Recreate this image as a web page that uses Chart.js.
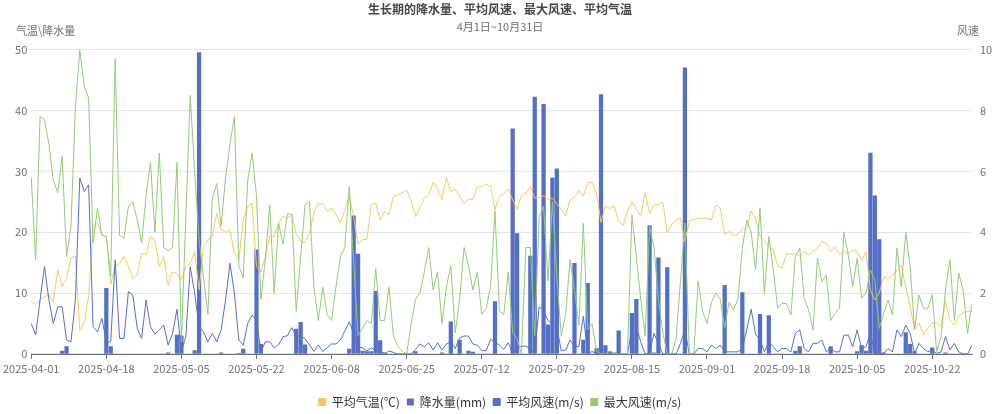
<!DOCTYPE html>
<html>
<head>
<meta charset="utf-8">
<script src="https://cdn.jsdelivr.net/npm/chart.js@4.4.1/dist/chart.umd.min.js"></script>
<style>
  html, body { margin: 0; padding: 0; background: #fff; }
  #wrap { width: 1000px; height: 414px; }
</style>
</head>
<body>
<div id="wrap"><canvas id="chart"></canvas></div>
<script>
// 2025-04-01 ~ 2025-10-31, one category per day
const dates = [];
for (let d = new Date(Date.UTC(2025, 3, 1)); d <= new Date(Date.UTC(2025, 9, 31)); d.setUTCDate(d.getUTCDate() + 1)) {
  dates.push(d.toISOString().slice(0, 10));
}

// 平均气温(℃)
const avgTemp = [
  8.6, 8.1, 8.9, 9.4, 9.7, 8.6, 13.8, 11.1, 12.5, 15.8,
  16.1, 3.9, 5.2, 9.4, 21.0, 21.5, 19.6, 19.3, 11.5, 14.4,
  14.8, 16.0, 14.4, 12.3, 13.0, 16.5, 16.3, 19.3, 18.7, 14.4,
  16.0, 11.3, 13.5, 13.2, 12.2, 14.4, 14.9, 16.8, 10.5, 17.6,
  18.7, 19.3, 23.1, 20.4, 20.1, 20.4, 16.5, 15.4, 22.0, 24.2,
  24.8, 14.4, 13.5, 16.0, 19.3, 19.3, 21.5, 22.6, 22.3, 22.9,
  19.6, 18.5, 18.3, 19.9, 23.2, 24.7, 24.7, 23.4, 24.0, 22.9,
  21.5, 23.7, 25.9, 22.6, 18.0, 18.8, 18.8, 24.5, 24.8, 22.0,
  23.4, 22.9, 25.9, 26.1, 26.5, 26.9, 25.3, 22.6, 24.0, 25.6,
  26.1, 28.2, 27.1, 25.4, 29.0, 26.7, 27.1, 25.9, 24.7, 25.4,
  25.4, 27.5, 27.4, 27.9, 27.5, 23.7, 25.9, 26.3, 27.1, 25.3,
  23.8, 26.0, 26.4, 27.5, 25.6, 25.7, 26.0, 25.4, 25.6, 24.7,
  23.7, 22.7, 25.3, 25.8, 26.8, 25.9, 28.1, 28.2, 26.4, 21.6,
  24.3, 23.9, 24.3, 21.9, 21.1, 23.4, 25.0, 23.9, 22.6, 26.5,
  23.1, 24.5, 24.5, 25.0, 19.9, 21.2, 22.0, 22.3, 18.5, 21.8,
  22.1, 22.3, 22.3, 22.3, 22.0, 24.5, 23.9, 19.7, 20.1, 19.5,
  19.6, 20.5, 20.5, 23.5, 22.2, 19.3, 18.7, 17.6, 17.2, 14.4,
  14.1, 16.5, 16.4, 16.5, 16.1, 16.8, 16.3, 16.8, 17.4, 18.5,
  18.2, 16.8, 17.6, 16.3, 16.8, 16.5, 17.1, 16.8, 15.3, 16.8,
  10.5, 8.9, 10.0, 12.7, 12.3, 13.0, 13.8, 14.6, 11.1, 7.8,
  4.0, 5.1, 3.1, 4.2, 5.1, 5.1, 4.5, 8.6, 5.6, 4.8,
  6.2, 6.8, 7.0, 7.0
];

// 降水量(mm)
const rain = [
  0, 0, 0, 0, 0, 0, 0, 0.5, 1.2, 0,
  0, 0, 0, 0, 0, 0, 0, 10.8, 1.2, 0,
  0, 0, 0, 0, 0, 0, 0, 0, 0, 0,
  0, 0.2, 0, 3.1, 3.0, 0, 0, 0.55, 49.5, 0,
  0, 0, 0, 0.2, 0, 0, 0, 0.1, 0.8, 0,
  0, 17.1, 1.6, 0, 0, 0, 0, 0, 0, 0,
  4.1, 5.2, 1.5, 0, 0, 0, 0, 0, 0, 0,
  0, 0, 0.8, 22.7, 16.4, 0.5, 0.4, 0.4, 10.3, 2.2,
  0.2, 0, 0, 0, 0, 0, 0, 0.4, 0, 0,
  0, 0, 0, 0.2, 0, 5.3, 0, 2.3, 0, 0.5,
  0.3, 0, 0, 0, 0, 8.6, 0, 0, 0, 37.0,
  19.8, 0, 0, 16.1, 42.2, 0, 41.0, 4.8, 28.9, 30.4,
  0, 0, 0, 14.9, 0, 2.3, 11.6, 0, 0.9, 42.6,
  1.4, 0.4, 0.2, 3.8, 0, 0, 6.7, 9.0, 0, 0,
  21.1, 0.2, 15.8, 0, 14.2, 0, 0, 0, 47.0, 0,
  0, 0, 0, 0, 0, 0, 0, 11.3, 0, 0,
  0, 10.1, 0, 0, 0, 6.5, 0, 6.3, 0, 0,
  0, 0, 0, 0.5, 1.2, 0, 0, 0, 0, 0,
  0, 1.2, 0, 0, 0, 0, 0, 0.4, 1.4, 0.5,
  33.0, 26.0, 18.8, 0.2, 0, 0, 0, 0, 3.5, 1.6,
  0.4, 0, 0, 0, 1.0, 0, 0, 0.2, 0, 0,
  0, 0, 0, 0
];

// 平均风速(m/s)
const avgWind = [
  1.0, 0.62, 1.78, 2.87, 1.78, 1.0, 1.55, 1.55, 0.46, 0.4,
  1.78, 5.78, 5.34, 5.56, 0.9, 0.73, 1.17, 0.4, 0.4, 3.1,
  0.51, 0.51, 2.05, 1.94, 0.84, 0.51, 1.78, 0.9, 0.65, 0.79,
  0.95, 0.29, 0.68, 1.47, 0.08, 0.57, 2.87, 2.0, 0.9, 0.73,
  0.4, 0.68, 0.4, 0.79, 1.78, 2.98, 2.0, 0.46, 0.29, 1.0,
  1.28, 1.1, 0.08, 0.4, 0.4, 0.2, 0.3, 0.57, 0.6, 0.87,
  0.57, 0.6, 0.5, 0.3, 0.08, 0.3, 0.08, 0.2, 0.33, 0.33,
  0.46, 0.75, 1.06, 0.68, 0.24, 0.2, 0.1, 0.2, 0.1, 0.1,
  0, 0.1, 0.05, 0, 0, 0, 0, 0.15, 0.33, 0.24,
  0.37, 0.13, 0.37, 0.13, 0.33, 0.4, 0.18, 0.53, 0.59, 0.59,
  0.33, 0.29, 0.11, 0.11, 0.48, 0.4, 0.29, 0.15, 0.37, 0.02,
  0.21, 0.26, 0.26, 0.15, 0.04, 1.55, 1.42, 1.1, 1.0, 0.9,
  0.1, 0.13, 0.46, 0.24, 0.24, 1.25, 0.02, 0.08, 0.02, 0,
  0, 0, 0, 0, 0, 0, 0.84, 0.89, 0.4, 0,
  0.02, 0.68, 0.35, 0, 0, 0, 0, 0.35, 0.79, 0,
  0, 0.18, 0.18, 0.07, 0.29, 0.18, 0.29, 0.07, 0.07, 0.07,
  0.07, 0.18, 0.79, 1.47, 0.65, 0.46, 0.07, 0.4, 0.24, 0.07,
  0.18, 0.18, 0.07, 0.68, 0.79, 0.18, 0.07, 0.35, 0.35, 0.46,
  0.07, 0.18, 0.07, 0.07, 0.62, 0.62, 0.24, 0.79, 0.18, 0.24,
  0.7, 0.02, 0, 0.02, 0.18, 0.07, 0.79, 0.57, 0.95, 0.68,
  0.02, 0.35, 0.18, 0.07, 0.13, 0.02, 0.07, 0.57, 0.13, 0.35,
  0.07, 0, 0, 0.29
];

// 最大风速(m/s)
const maxWind = [
  5.8, 3.1, 7.8, 7.7, 6.9, 5.7, 5.3, 6.5, 3.2, 4.2,
  8.1, 10.0, 8.8, 8.4, 3.65, 4.8, 3.9, 3.85, 2.55, 9.7,
  3.9, 3.8, 4.85, 5.0, 4.4, 3.65, 5.2, 6.3, 4.0, 6.6,
  3.5, 3.4, 3.5, 6.3, 0.4, 4.5, 8.5, 6.0, 3.75, 2.5,
  1.3, 5.1, 5.6, 4.2, 5.8, 6.9, 7.8, 2.9, 2.5, 5.7,
  6.6, 5.2, 1.8, 3.1, 4.9, 2.0, 4.3, 3.6, 4.6, 4.6,
  1.4, 3.2, 4.9, 5.0, 2.2, 1.1, 2.2, 1.3, 1.1, 2.2,
  3.2, 3.5, 5.5, 3.0, 0.6, 0.85, 1.1, 1.0, 2.8, 1.1,
  1.1, 2.2, 0.6, 0.25, 0.1, 0, 1.0, 1.8, 2.0, 2.7,
  3.5, 2.1, 2.7, 1.0, 2.2, 2.9, 0.7, 1.8, 3.5, 2.9,
  2.1, 2.7, 1.3, 1.5, 2.2, 4.7, 1.4, 1.3, 2.7, 0.7,
  0.5, 0, 3.5, 3.5, 0.6, 4.5, 4.85, 2.4, 5.0, 2.55,
  0.6, 1.3, 3.1, 2.1, 0.95, 4.3, 0.8, 1.0, 0.1, 0,
  0, 0.1, 0, 0, 0, 0, 4.56, 3.2, 1.8, 0.6,
  4.2, 3.5, 1.8, 0.7, 0, 0, 0.5, 2.4, 4.3, 0,
  0, 2.4, 1.4, 1.0, 1.7, 2.0, 1.8, 0.85, 1.7, 1.45,
  1.8, 3.5, 4.4, 4.0, 2.76, 4.8, 2.0, 3.86, 2.76, 1.5,
  1.66, 1.66, 1.28, 3.2, 3.48, 1.83, 1.45, 0.79, 3.15, 2.38,
  2.6, 1.1, 1.34, 1.5, 4.0, 3.25, 2.2, 3.15, 1.83, 2.0,
  2.76, 2.43, 0.84, 1.34, 1.77, 1.28, 3.48, 2.2, 4.0, 2.87,
  0.79, 1.94, 1.5, 1.5, 1.94, 0.08, 0.57, 2.1, 3.1, 1.1,
  2.66, 2.1, 0.68, 1.66
];

const labelStep = 17;
const axisGray = '#6e7079';
const gridColor = '#e0e6f1';

Chart.defaults.font.family = '"Noto Sans CJK SC", "Noto Sans", sans-serif';
Chart.defaults.color = axisGray;

// echarts-like axis names above the two value axes
const axisNames = {
  id: 'axisNames',
  afterDraw(chart) {
    const ctx = chart.ctx;
    ctx.save();
    ctx.font = '11px "Noto Sans CJK SC", sans-serif';
    ctx.fillStyle = axisGray;
    ctx.textBaseline = 'middle';
    ctx.textAlign = 'left';
    ctx.fillText('气温\\降水量', 16, 31);
    ctx.textAlign = 'center';
    ctx.fillText('风速', 968, 31);
    ctx.restore();
  }
};

new Chart(document.getElementById('chart'), {
  type: 'bar',
  data: {
    labels: dates,
    datasets: [
      {
        type: 'line',
        label: '平均气温(℃)',
        data: avgTemp,
        yAxisID: 'y',
        borderColor: '#fac858',
        backgroundColor: '#fac858',
        borderWidth: 1,
        pointRadius: 0,
        fill: false,
        tension: 0,
        order: 3,
      },
      {
        type: 'bar',
        label: '降水量(mm)',
        data: rain,
        yAxisID: 'y',
        backgroundColor: '#5470c6',
        barThickness: 3.6,
        order: 4,
      },
      {
        type: 'line',
        label: '平均风速(m/s)',
        data: avgWind,
        yAxisID: 'y1',
        borderColor: '#5470c6',
        backgroundColor: '#5470c6',
        borderWidth: 1,
        pointRadius: 0,
        fill: false,
        tension: 0,
        order: 2,
      },
      {
        type: 'line',
        label: '最大风速(m/s)',
        data: maxWind,
        yAxisID: 'y1',
        borderColor: '#91cc75',
        backgroundColor: '#91cc75',
        borderWidth: 1,
        pointRadius: 0,
        fill: false,
        tension: 0,
        order: 1,
      },
    ],
  },
  options: {
    responsive: true,
    maintainAspectRatio: false,
    animation: false,
    layout: { padding: { top: 0, left: 0, right: 0, bottom: -4 } },
    plugins: {
      title: {
        display: true,
        text: '生长期的降水量、平均风速、最大风速、平均气温',
        color: '#464646',
        font: { size: 12, weight: 'bold' },
        padding: { top: 2, bottom: 4 },
      },
      subtitle: {
        display: true,
        text: '4月1日~10月31日',
        color: axisGray,
        font: { size: 11 },
        padding: { top: 0, bottom: 16 },
      },
      legend: {
        position: 'bottom',
        labels: {
          boxWidth: 7,
          boxHeight: 7,
          color: '#333',
          font: { size: 12 },
          padding: 7,
          sort: (a, b) => a.datasetIndex - b.datasetIndex,
        },
      },
      tooltip: { enabled: false },
    },
    scales: {
      x: {
        offset: false,
        grid: {
          display: true,
          drawOnChartArea: false,
          drawTicks: true,
          tickLength: 5,
          color: axisGray,
          offset: false,
        },
        border: { color: axisGray },
        ticks: {
          autoSkip: false,
          maxRotation: 0,
          minRotation: 0,
          font: { size: 11 },
          color: axisGray,
          callback: (v, i) => (i % labelStep === 0 ? dates[i] : null),
        },
        afterFit: (s) => { s.height = 35; },
      },
      y: {
        position: 'left',
        min: 0,
        max: 50,
        ticks: { stepSize: 10, font: { size: 11 }, color: axisGray, padding: 4 },
        grid: { color: gridColor, drawTicks: false },
        border: { display: false },
        afterFit: (s) => { s.width = 27; },
      },
      y1: {
        position: 'right',
        min: 0,
        max: 10,
        ticks: { stepSize: 2, font: { size: 11 }, color: axisGray, padding: 8 },
        grid: { drawOnChartArea: false, drawTicks: false },
        border: { display: false },
        afterFit: (s) => { s.width = 28; },
      },
    },
  },
  plugins: [axisNames],
});
</script>
</body>
</html>
